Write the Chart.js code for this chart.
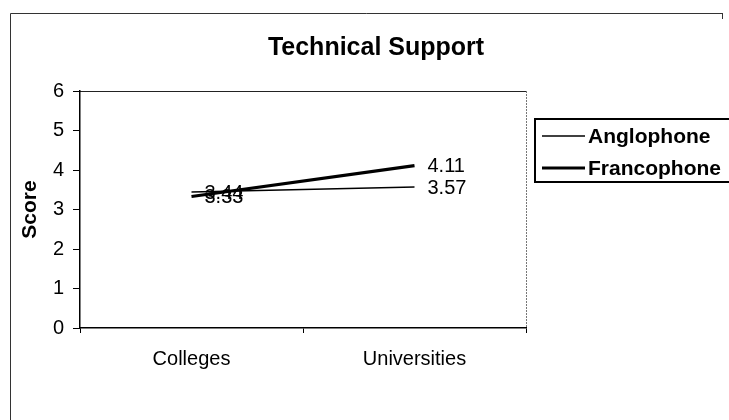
<!DOCTYPE html>
<html>
<head>
<meta charset="utf-8">
<script src="https://cdn.jsdelivr.net/npm/chart.js@4/dist/chart.umd.min.js"></script>
<style>
  html, body { margin: 0; padding: 0; background: #fff; }
  #wrap { width: 729px; height: 420px; position: relative; }
</style>
</head>
<body>
<div id="wrap"><canvas id="c" width="729" height="420"></canvas></div>
<script>
const chartTitle = "Technical Support";
const categories = ["Colleges", "Universities"];
const seriesNames = ["Anglophone", "Francophone"];
const anglophone = [3.44, 3.57];
const francophone = [3.33, 4.11];
const yTicks = [0, 1, 2, 3, 4, 5, 6];
const yTitle = "Score";

const FONT = "'Liberation Sans', Arial, sans-serif";

const framePlugin = {
  id: 'frame',
  beforeDraw(chart) {
    const ctx = chart.ctx;
    ctx.save();
    ctx.fillStyle = '#fff';
    ctx.fillRect(0, 0, chart.width, chart.height);
    ctx.strokeStyle = '#333';
    ctx.lineWidth = 1;
    ctx.beginPath();
    ctx.moveTo(10.5, 420);
    ctx.lineTo(10.5, 13.5);
    ctx.lineTo(722, 13.5);
    ctx.stroke();
    ctx.beginPath();
    ctx.moveTo(722.5, 13);
    ctx.lineTo(722.5, 19);
    ctx.stroke();
    // plot area top and right border
    const a = chart.chartArea;
    ctx.strokeStyle = '#222';
    ctx.beginPath();
    ctx.moveTo(a.left - 7, Math.round(a.top) + 0.5);
    ctx.lineTo(a.right, Math.round(a.top) + 0.5);
    ctx.stroke();
    ctx.strokeStyle = '#777';
    ctx.setLineDash([2, 1]);
    ctx.beginPath();
    ctx.moveTo(Math.round(a.right) + 0.5, a.top);
    ctx.lineTo(Math.round(a.right) + 0.5, a.bottom);
    ctx.stroke();
    ctx.restore();
  },
  afterDraw(chart) {
    const ctx = chart.ctx;
    ctx.save();
    // title
    ctx.fillStyle = '#000';
    ctx.font = "bold 25px " + FONT;
    ctx.textAlign = 'center';
    ctx.textBaseline = 'middle';
    ctx.fillText(chartTitle, 376, 48);
    // data labels
    ctx.font = "20px " + FONT;
    ctx.textAlign = 'left';
    chart.data.datasets.forEach((ds, i) => {
      const meta = chart.getDatasetMeta(i);
      meta.data.forEach((pt, j) => {
        ctx.fillText(ds.data[j].toFixed(2), pt.x + 13, pt.y + 1);
      });
    });
    // legend
    const lx = 535, ly = 119, lh = 63;
    ctx.strokeStyle = '#000';
    ctx.lineWidth = 2;
    ctx.beginPath();
    ctx.moveTo(740, ly);
    ctx.lineTo(lx, ly);
    ctx.lineTo(lx, ly + lh);
    ctx.lineTo(740, ly + lh);
    ctx.stroke();
    ctx.font = "bold 21px " + FONT;
    chart.data.datasets.forEach((ds, i) => {
      const y = 136 + i * 32;
      ctx.strokeStyle = ds.borderColor;
      ctx.lineWidth = ds.borderWidth;
      ctx.beginPath();
      ctx.moveTo(542, y);
      ctx.lineTo(585, y);
      ctx.stroke();
      ctx.fillStyle = '#000';
      ctx.fillText(ds.label, 588, y + 1);
    });
    ctx.restore();
  }
};

new Chart(document.getElementById('c'), {
  type: 'line',
  data: {
    labels: categories,
    datasets: [
      { label: seriesNames[0], data: anglophone, borderColor: '#000', borderWidth: 1.5,
        pointRadius: 0, tension: 0, fill: false },
      { label: seriesNames[1], data: francophone, borderColor: '#000', borderWidth: 3.2,
        pointRadius: 0, tension: 0, fill: false }
    ]
  },
  options: {
    responsive: false,
    animation: false,
    devicePixelRatio: 1,
    layout: { padding: { top: 91, left: 0, right: 203, bottom: 0 } },
    plugins: {
      legend: { display: false },
      title: { display: false },
      tooltip: { enabled: false }
    },
    scales: {
      x: {
        offset: true,
        grid: { offset: true, drawOnChartArea: false, color: '#000', tickLength: 5, lineWidth: 1 },
        border: { color: '#000', width: 1.5 },
        ticks: { color: '#000', font: { family: FONT, size: 20 }, padding: 14, maxRotation: 0 },
        afterFit(scale) { scale.height = 92; }
      },
      y: {
        min: 0, max: 6,
        afterBuildTicks(scale) { scale.ticks = yTicks.map(v => ({ value: v })); },
        grid: { drawOnChartArea: false, color: '#000', tickLength: 7 },
        border: { color: '#000', width: 1.5 },
        ticks: { color: '#000', font: { family: FONT, size: 20 }, padding: 9 },
        title: { display: true, text: yTitle, color: '#000',
                 font: { family: FONT, size: 21, weight: 'bold' }, padding: { top: 18, bottom: 0 } },
        afterFit(scale) { scale.width = 80; }
      }
    }
  },
  plugins: [framePlugin]
});
</script>
</body>
</html>
